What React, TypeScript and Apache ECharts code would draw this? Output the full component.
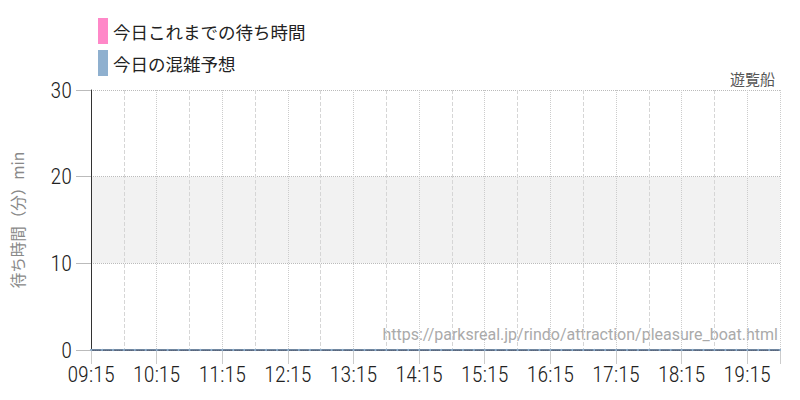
import React, { useEffect, useRef } from "react";
import * as echarts from "echarts";

// 10-minute samples, 09:15 -> 19:45
const TIMES = [
    "09:15", "09:25", "09:35", "09:45", "09:55", "10:05", "10:15", "10:25", "10:35", "10:45", "10:55",
    "11:05", "11:15", "11:25", "11:35", "11:45", "11:55", "12:05", "12:15", "12:25", "12:35", "12:45",
    "12:55", "13:05", "13:15", "13:25", "13:35", "13:45", "13:55", "14:05", "14:15", "14:25", "14:35",
    "14:45", "14:55", "15:05", "15:15", "15:25", "15:35", "15:45", "15:55", "16:05", "16:15", "16:25",
    "16:35", "16:45", "16:55", "17:05", "17:15", "17:25", "17:35", "17:45", "17:55", "18:05", "18:15",
    "18:25", "18:35", "18:45", "18:55", "19:05", "19:15", "19:25", "19:35", "19:45",
];
const FORECAST = [
    0, 0, 0, 0, 0, 0, 0, 0, 0, 0, 0,
    0, 0, 0, 0, 0, 0, 0, 0, 0, 0, 0,
    0, 0, 0, 0, 0, 0, 0, 0, 0, 0, 0,
    0, 0, 0, 0, 0, 0, 0, 0, 0, 0, 0,
    0, 0, 0, 0, 0, 0, 0, 0, 0, 0, 0,
    0, 0, 0, 0, 0, 0, 0, 0, 0,
];
const ACTUAL: number[][] = [];

const SERIES_NAMES = ["今日これまでの待ち時間", "今日の混雑予想"];
const TITLE = "遊覧船";
const Y_NAME = "待ち時間（分）min";
const SOURCE_URL = "https://parksreal.jp/rindo/attraction/pleasure_boat.html";
const START = "09:15";
const END = "19:45";

const NUM_FONT = "'Roboto Condensed', 'Liberation Sans Narrow', 'DejaVu Sans Condensed', Roboto, sans-serif";
const JP_FONT = "'Noto Sans CJK JP', 'Noto Sans', sans-serif";

// minutes since 09:15
function toMin(t: string) {
    const [h, m] = t.split(":").map(Number);
    const [h0, m0] = START.split(":").map(Number);
    return h * 60 + m - (h0 * 60 + m0);
}
function fmt(v: number) {
    const [h0, m0] = START.split(":").map(Number);
    const tot = h0 * 60 + m0 + v;
    const h = Math.floor(tot / 60);
    const m = tot % 60;
    return `${String(h).padStart(2, "0")}:${String(m).padStart(2, "0")}`;
}

const App: React.FC = () => {
    const ref = useRef<HTMLDivElement | null>(null);

    useEffect(() => {
        if (!ref.current) return;
        const inst = echarts.init(ref.current, undefined, { renderer: "svg" });

        inst.setOption({
            animation: false,
            legend: {
                orient: "vertical",
                left: 93,
                top: 13,
                itemWidth: 10,
                itemHeight: 26,
                itemGap: 6,
                icon: "rect",
                textStyle: { fontFamily: JP_FONT, fontSize: 17.5, color: "#222" },
                data: SERIES_NAMES.map((n) => ({ name: n, icon: "rect" })),
            },
            title: {
                text: TITLE,
                right: 20,
                top: 66,
                textStyle: { fontFamily: JP_FONT, fontSize: 15, fontWeight: "normal", color: "#555" },
            },
            graphic: [
                {
                    type: "text",
                    right: 22,
                    top: 326,
                    style: {
                        text: SOURCE_URL,
                        fontFamily: "Roboto, sans-serif",
                        fontSize: 16,
                        fill: "#aaa",
                    },
                },
            ],
            grid: { left: 91, right: 20, top: 90, bottom: 50, outerBoundsMode: "none", containLabel: false },
            xAxis: {
                type: "value",
                min: 0,
                max: toMin(END),
                interval: 60,
                axisLine: { show: true, lineStyle: { color: "#1c2a44", width: 1.5 } },
                axisTick: { show: true, length: 14, lineStyle: { color: "#ccc" } },
                axisLabel: {
                    formatter: (v: number) => (v % 60 === 0 && v <= toMin(END) - 30 ? fmt(v) : ""),
                    fontFamily: NUM_FONT,
                    fontSize: 22,
                    fontWeight: 300,
                    color: "#222",
                    margin: 13,
                },
                splitLine: { show: true, lineStyle: { color: "#ccc", type: "dotted" } },
                minorTick: { show: false, splitNumber: 2 },
                minorSplitLine: { show: true, lineStyle: { color: "#d6d6d6", type: "dashed" } },
            },
            yAxis: {
                type: "value",
                min: 0,
                max: 30,
                interval: 10,
                name: Y_NAME,
                nameLocation: "middle",
                nameGap: 66,
                nameTextStyle: { fontFamily: JP_FONT, fontSize: 15.5, color: "#888" },
                axisLine: { show: true, lineStyle: { color: "#333" } },
                axisTick: { show: true, length: 15, lineStyle: { color: "#bbb" } },
                axisLabel: { fontFamily: NUM_FONT, fontSize: 22, fontWeight: 300, color: "#222", margin: 19 },
                splitLine: { show: true, lineStyle: { color: "#bbb", type: "dotted" } },
                splitArea: { show: true, areaStyle: { color: ["rgba(0,0,0,0)", "#f2f2f2"] } },
            },
            series: [
                {
                    name: SERIES_NAMES[0],
                    type: "line",
                    itemStyle: { color: "#ff88c8" },
                    lineStyle: { color: "#ff88c8" },
                    data: ACTUAL,
                },
                {
                    name: SERIES_NAMES[1],
                    type: "line",
                    itemStyle: { color: "#8fb0cf" },
                    lineStyle: { color: "#8fb0cf", width: 1 },
                    symbol: "circle",
                    symbolSize: 2,
                    data: TIMES.map((t, i) => [toMin(t), FORECAST[i]]),
                },
            ],
        });

        return () => inst.dispose();
    }, []);

    return (
        <div
            ref={ref}
            style={{ position: "fixed", left: 0, top: 0, width: 800, height: 400, background: "#fff" }}
        />
    );
};

export default App;
